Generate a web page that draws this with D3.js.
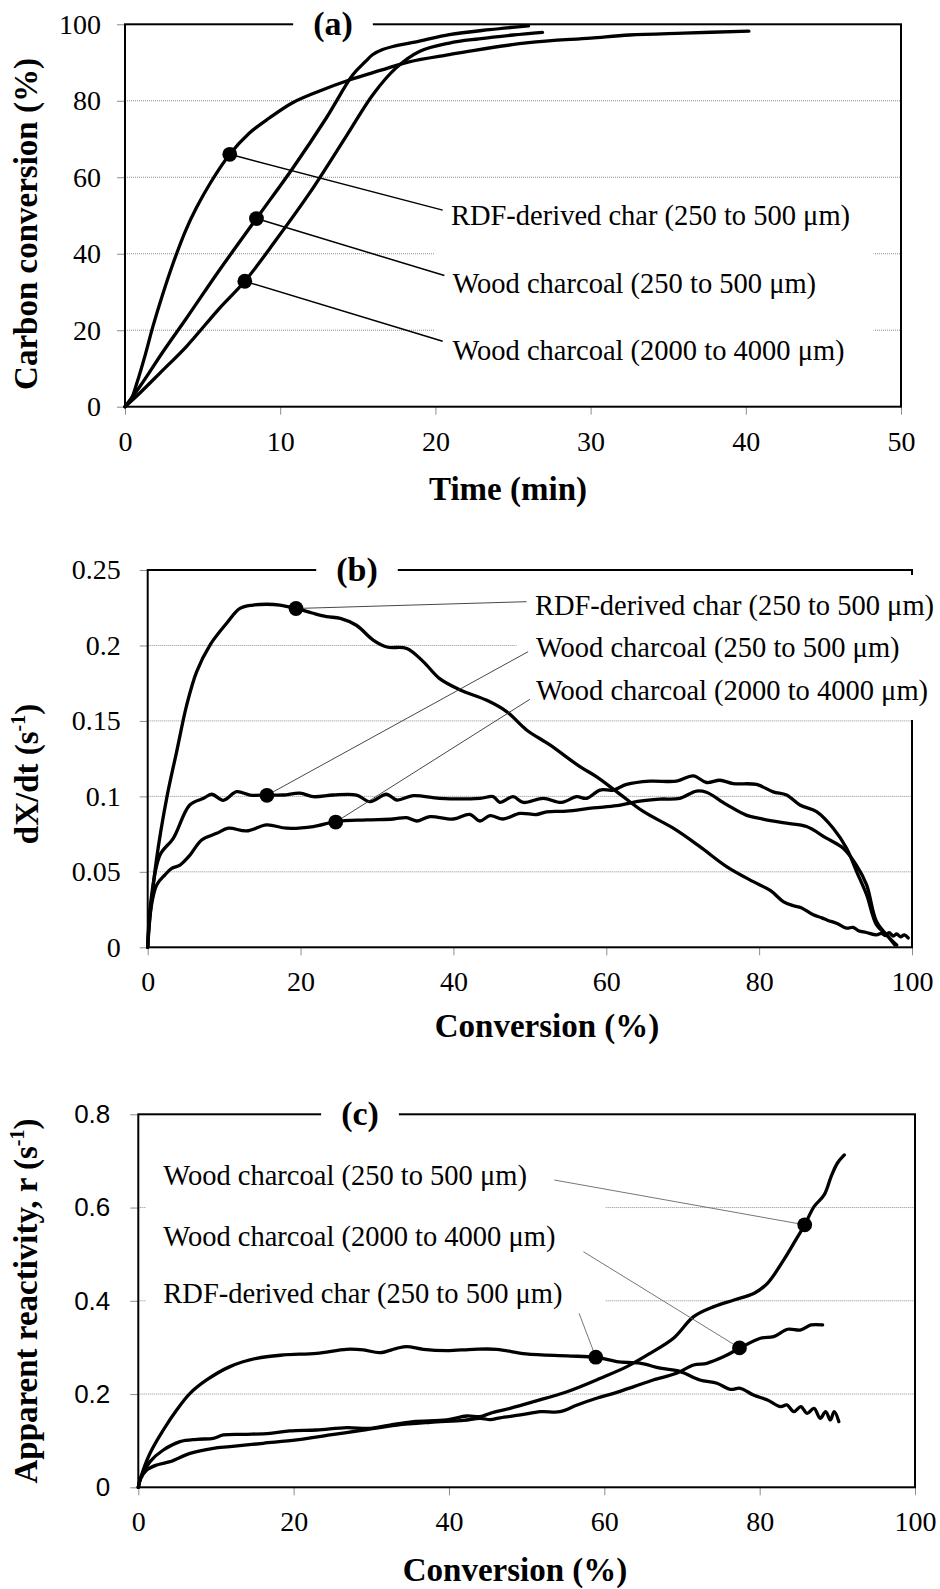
<!DOCTYPE html>
<html><head><meta charset="utf-8">
<script src="https://cdn.jsdelivr.net/npm/d3@7"></script>
<style>
body{margin:0;background:#fff;}
svg{display:block;background:#fff;}
</style></head><body>
<svg id="chart" width="940" height="1589"></svg>
<script>
// ---------- Panel (a): carbon conversion vs time ----------
const seriesNames = ["RDF-derived char (250 to 500 μm)", "Wood charcoal (250 to 500 μm)", "Wood charcoal (2000 to 4000 μm)"];

const aTimeRDF = [0,0.4,0.75,1.3,1.8,2.4,3.1,3.9,4.6,5.5,6.75,8,9.3,10.8,12.5,14.5,16.5,18.3,20.9,22.2,26,30,32.5,36,40.2];
const aConvRDF = [0,2,6,13.5,21,29,37.5,46,52,58.5,66,71.5,75.5,79.5,82.5,85.5,88,90.2,92.1,93,95.2,96.4,97.2,97.7,98.2];
const aTimeW250 = [0,0.96,2.47,3.97,6.1,8.47,10.83,12.97,14.68,15.5,15.97,16.6,17.26,18.97,20.9,23.5,26.0];
const aConvW250 = [0,5.3,14.5,23.2,35.8,49.2,62.5,75.5,86.8,90.3,92.1,93.4,94.2,95.6,97.3,98.6,99.6];
const aTimeW2000 = [0,0.96,2.25,3.97,6.1,7.72,9.75,11.9,14.25,15.97,17.47,18.97,20.9,22.8,25,26.9];
const aConvW2000 = [0,3.6,8.8,15.8,25.8,32.8,43.7,55.9,70.7,81.6,88.6,92.9,95.1,96.2,97.2,97.9];
const aXTicks = [0,10,20,30,40,50];
const aYTicks = [0,20,40,60,80,100];
const aGrid = [20,40,60,80];
// markers [x, y] and leader-line ends [x, y] (data units)
const aDots = [[6.75,66],[8.47,49.2],[7.72,32.8]];
const aLeadEnds = [[20.47,51.4],[20.58,34.3],[20.47,17.1]];
const aLabelPos = [[21.0,47.5],[21.1,29.8],[21.1,12.2]];
const aBox = [19.94,48.23,6.96,55.4];

// ---------- Panel (b): dX/dt vs conversion ----------
const bConvRDF = [0,0.3,1.17,2.48,3.79,5.1,6.41,8.15,10.33,12.07,13.8,15.56,17.3,19.35,21.5,23.4,25.2,27.3,29.5,31.3,33.9,36.05,38.2,40.9,44.3,46.96,49.57,52.62,56.55,58.7,61.35,64.84,68.76,72.25,75.74,79.23,81.5,83.15,84.5,85.5,87.08,88.2,89.0,90.2,91.44,92.3,93.0,94.0,95.35,96.0,96.5,97.0,97.54,98.0,98.5,99.0,99.5];
const bRateRDF = [0,0.02,0.059,0.0987,0.1297,0.1605,0.1827,0.2003,0.2147,0.2246,0.2268,0.2273,0.2268,0.2246,0.2215,0.2191,0.218,0.2134,0.2036,0.199,0.198,0.1893,0.178,0.1705,0.1638,0.1562,0.144,0.1341,0.1197,0.1131,0.1032,0.09,0.0789,0.0667,0.0535,0.0435,0.0375,0.0303,0.0275,0.0262,0.0215,0.0195,0.0178,0.0158,0.0127,0.0132,0.011,0.0098,0.0082,0.0092,0.0078,0.0097,0.0075,0.0088,0.007,0.0082,0.0062];
const bConvW250 = [0,0.4,1.61,3.35,5.5,7.3,8.37,9.89,11.64,13.38,15.56,17.74,19.92,21.67,24.28,27.33,29.08,31.26,32.57,34.75,38.2,43.47,45.2,46.08,47.8,49.14,51.75,54.15,56.1,57.43,59.18,60.92,62.66,65.71,69.2,71.38,73.12,74.87,76.61,79.66,81.84,83.59,85.33,87.51,89.69,91.44,92.75,94.06,95.36,96.67,97.76];
const bRateW250 = [0,0.03,0.0612,0.0722,0.0943,0.0987,0.1014,0.0974,0.1031,0.1009,0.1009,0.1009,0.1022,0.0998,0.1009,0.1009,0.0965,0.1014,0.0976,0.1005,0.0987,0.0987,0.0998,0.0961,0.0998,0.096,0.0987,0.096,0.0998,0.0987,0.1042,0.1042,0.1079,0.1101,0.1101,0.1136,0.1092,0.1107,0.1085,0.1079,0.103,0.1009,0.0943,0.0899,0.0789,0.0656,0.0502,0.0348,0.0149,0.0082,0.0015];
const bConvW2000 = [0,0.4,1.17,2.26,3.14,4.22,5.53,7.06,9.02,10.55,12.95,15.56,18.17,21.67,24.59,28.64,32.13,33.87,35.18,36.92,39.97,42.15,43.46,44.77,46.5,48.7,50.9,52.2,54.8,58.3,61.35,64.4,67.0,69.6,71.8,73.1,75.7,78.3,80.5,83.6,86.2,88.8,91.0,92.7,94.06,95.36,97.1,98.0];
const bRateW2000 = [0,0.025,0.0413,0.048,0.0523,0.0545,0.0611,0.0711,0.0755,0.0789,0.0771,0.0811,0.0789,0.08,0.0833,0.0844,0.085,0.0859,0.0837,0.0866,0.085,0.0881,0.0837,0.0872,0.085,0.0887,0.088,0.0898,0.0902,0.0924,0.0938,0.0969,0.0982,0.0987,0.1035,0.1027,0.0947,0.0876,0.085,0.0822,0.08,0.0723,0.0656,0.0546,0.0414,0.0171,0.006,0.0015];
const bXTicks = [0,20,40,60,80,100];
const bYTicks = [0,0.05,0.1,0.15,0.2,0.25];
const bGrid = [0.05,0.1,0.15,0.2];
const bDots = [[19.4,0.2245],[15.6,0.1007],[24.6,0.083]];
const bLeadEnds = [[49.57,0.229],[49.78,0.1959],[50.0,0.1643]];
const bLabelPos = [[50.66,0.2202],[50.8,0.1926],[50.8,0.1639]];
const bBox = [48.27,104,0.1506,0.2467];

// ---------- Panel (c): apparent reactivity vs conversion ----------
const cConvRDF = [0,0.3,1.51,3.22,4.94,6.66,8.8,11.8,15.24,18.7,22.97,26.83,28.98,31.13,33.27,34.56,36.7,39.7,43.15,46.15,49.9,55.2,58.9,61.6,64.6,67.2,69.8,72.3,74.5,76.2,77.5,79.2,81.0,82.7,83.5,84.4,85.3,86.1,87.0,87.8,88.5,89.1,89.6,90.2];
const cReacRDF = [0,0.02,0.0729,0.1229,0.1658,0.2015,0.2302,0.2588,0.2767,0.2838,0.2874,0.296,0.2946,0.2888,0.2981,0.3017,0.296,0.2931,0.296,0.296,0.2861,0.2818,0.279,0.2697,0.2661,0.2554,0.2482,0.2302,0.2231,0.2102,0.2123,0.198,0.1873,0.173,0.1766,0.1623,0.173,0.1587,0.1694,0.148,0.1623,0.1444,0.1623,0.1408];
const cConvW250 = [0,0.3,1.51,3.22,5.37,7.52,9.66,10.95,13.95,16.96,19.5,22.97,26.83,29.84,32.4,35.42,39.7,42.28,44.0,45.3,47.87,50.9,55.2,59.5,62.9,65.9,68.9,71.5,74.1,76.7,79.3,81.0,83.1,84.9,85.8,87.0,88.3,89.2,90.0,90.9];
const cReacW250 = [0,0.02,0.055,0.08,0.0979,0.1029,0.105,0.1122,0.1136,0.1158,0.1208,0.1229,0.1279,0.1265,0.1336,0.1408,0.1444,0.1529,0.1515,0.1587,0.1694,0.1837,0.205,0.2338,0.2588,0.2874,0.3196,0.366,0.3875,0.4018,0.4161,0.4375,0.4876,0.5377,0.5627,0.602,0.627,0.6664,0.695,0.7129];
const cConvW2000 = [0,0.3,1.08,2.37,4.08,6.66,9.66,11.8,16.1,20.4,24.7,28.98,33.3,37.6,41.9,44.0,45.3,46.6,49.2,51.8,54.3,56.5,59.0,61.2,63.8,66.3,69.3,71.5,73.2,75.4,77.4,80.1,81.8,83.6,85.3,86.6,88.1];
const cReacW2000 = [0,0.018,0.0371,0.0479,0.055,0.0729,0.0836,0.0872,0.0944,0.1015,0.1122,0.1229,0.1336,0.1395,0.1437,0.148,0.1451,0.149,0.1551,0.1622,0.1622,0.1765,0.1909,0.2016,0.2159,0.2302,0.2445,0.2624,0.266,0.2803,0.2981,0.3196,0.3232,0.339,0.3375,0.3482,0.3482];
const cXTicks = [0,20,40,60,80,100];
const cYTicks = [0,0.2,0.4,0.6,0.8];
const cGrid = [0.2,0.4,0.6];
// order in panel (c): Wood 250-500, Wood 2000-4000, RDF
const cLabelOrder = [1,2,0];
const cDots = [[85.8,0.563],[77.4,0.299],[58.9,0.279]];
const cLeadEnds = [[53.57,0.659],[57.31,0.5053],[56.75,0.3732]];
const cLabelPos = [[3.22,0.6484],[3.22,0.5175],[3.22,0.3953]];
const cBox = [0.99,60.1,0.3593,0.766];

// ---------- drawing ----------
const svg = d3.select("#chart");
const SERIF = "'Liberation Serif','Times New Roman',Times,serif";
const SANS = "'Liberation Sans',Arial,Helvetica,sans-serif";
const zip = (xs, ys) => xs.map((v,i)=>[v, ys[i]]);

const panels = [
  { tag:"(a)", left:125, right:901, top:24.3, bottom:406.7, xDomain:[0,50], yDomain:[0,100],
    xTicks:aXTicks, yTicks:aYTicks, grid:aGrid, yFont:SERIF, yFontSize:28, yPad:16,
    series:[zip(aTimeRDF,aConvRDF), zip(aTimeW250,aConvW250), zip(aTimeW2000,aConvW2000)],
    dots:aDots, leads:aLeadEnds, labels:aLabelPos, labelOrder:[0,1,2], box:aBox,
    leadColor:"#000", leadWidth:1.5,
    tagX:333, xTitle:"Time (min)", xTitleX:508, xTitleY:500,
    yTitle:[["Carbon conversion (%)",false]], yTitleX:37, yTitleY:224 },
  { tag:"(b)", left:147.7, right:912, top:570, bottom:947.3, xDomain:[0,100], yDomain:[0,0.25],
    xTicks:bXTicks, yTicks:bYTicks, grid:bGrid, yFont:SERIF, yFontSize:28, yPad:19,
    series:[zip(bConvRDF,bRateRDF), zip(bConvW250,bRateW250), zip(bConvW2000,bRateW2000)],
    dots:bDots, leads:bLeadEnds, labels:bLabelPos, labelOrder:[0,1,2], box:bBox,
    leadColor:"#333", leadWidth:0.9,
    tagX:357, xTitle:"Conversion (%)", xTitleX:547, xTitleY:1037,
    yTitle:[["dX/dt (s",false],["-1",true],[")",false]], yTitleX:38, yTitleY:774 },
  { tag:"(c)", left:138.3, right:915, top:1114.3, bottom:1487.3, xDomain:[0,100], yDomain:[0,0.8],
    xTicks:cXTicks, yTicks:cYTicks, grid:cGrid, yFont:SANS, yFontSize:26, yPad:20,
    series:[zip(cConvRDF,cReacRDF), zip(cConvW250,cReacW250), zip(cConvW2000,cReacW2000)],
    dots:cDots, leads:cLeadEnds, labels:cLabelPos, labelOrder:cLabelOrder, box:cBox,
    leadColor:"#666", leadWidth:0.9,
    tagX:360, xTitle:"Conversion (%)", xTitleX:515, xTitleY:1581,
    yTitle:[["Apparent reactivity, r (s",false],["-1",true],[")",false]], yTitleX:37, yTitleY:1301 }
];

panels.forEach(p => {
  const g = svg.append("g");
  const x = d3.scaleLinear().domain(p.xDomain).range([p.left, p.right]);
  const y = d3.scaleLinear().domain(p.yDomain).range([p.bottom, p.top]);

  // gridlines
  g.selectAll("line.grid").data(p.grid).join("line").attr("class","grid")
    .attr("x1", p.left).attr("x2", p.right)
    .attr("y1", d => y(d)).attr("y2", d => y(d))
    .attr("stroke", "#8c8c8c").attr("stroke-width", 1).attr("stroke-dasharray", "1,1");

  // axes
  const ya = g.append("g").attr("transform", `translate(${p.left},0)`)
    .call(d3.axisLeft(y).tickValues(p.yTicks).tickFormat(d => String(d)).tickSize(8).tickPadding(p.yPad));
  ya.select(".domain").remove();
  ya.selectAll(".tick line").attr("stroke", "#8c8c8c").attr("stroke-width", 1);
  ya.selectAll(".tick text").attr("font-family", p.yFont).attr("font-size", p.yFontSize).attr("fill", "#000");

  const xa = g.append("g").attr("transform", `translate(0,${p.bottom})`)
    .call(d3.axisBottom(x).tickValues(p.xTicks).tickFormat(d => String(d)).tickSize(8).tickPadding(16));
  xa.select(".domain").remove();
  xa.selectAll(".tick line").attr("stroke", "#8c8c8c").attr("stroke-width", 1);
  xa.selectAll(".tick text").attr("font-family", SERIF).attr("font-size", 28).attr("fill", "#000");

  // frame
  g.append("rect").attr("x", p.left).attr("y", p.top)
    .attr("width", p.right - p.left).attr("height", p.bottom - p.top)
    .attr("fill", "none").attr("stroke", "#000").attr("stroke-width", 2);

  // white label box (covers gridlines / frame like the original text boxes)
  const [bx0, bx1, by0, by1] = p.box;
  g.append("rect").attr("x", x(bx0)).attr("y", y(by1))
    .attr("width", x(bx1) - x(bx0)).attr("height", y(by0) - y(by1))
    .attr("fill", "#fff");

  // curves
  const line = d3.line().x(d => x(d[0])).y(d => y(d[1])).curve(d3.curveCatmullRom.alpha(0.5));
  g.selectAll("path.series").data(p.series).join("path").attr("class","series")
    .attr("d", line).attr("fill", "none").attr("stroke", "#000")
    .attr("stroke-width", 3.3).attr("stroke-linejoin", "round").attr("stroke-linecap", "round");

  // leader lines
  g.selectAll("line.lead").data(p.dots).join("line").attr("class","lead")
    .attr("x1", d => x(d[0])).attr("y1", d => y(d[1]))
    .attr("x2", (d,i) => x(p.leads[i][0])).attr("y2", (d,i) => y(p.leads[i][1]))
    .attr("stroke", p.leadColor).attr("stroke-width", p.leadWidth);

  // markers
  g.selectAll("circle.dot").data(p.dots).join("circle").attr("class","dot")
    .attr("cx", d => x(d[0])).attr("cy", d => y(d[1])).attr("r", 7.4).attr("fill", "#000");

  // series labels
  g.selectAll("text.lab").data(p.labels).join("text").attr("class","lab")
    .attr("x", d => x(d[0])).attr("y", d => y(d[1]))
    .attr("font-family", SERIF).attr("font-size", 28.5).attr("fill", "#000")
    .text((d,i) => seriesNames[p.labelOrder[i]]);

  // panel tag with white gap in the top frame
  const tag = g.append("text").attr("x", p.tagX).attr("y", p.top + 10.5)
    .attr("text-anchor", "middle").attr("font-family", SERIF).attr("font-weight", "bold")
    .attr("font-size", 34).text(p.tag);
  const bb = tag.node().getBBox();
  g.append("rect").attr("x", bb.x - 20).attr("y", p.top - 4)
    .attr("width", bb.width + 40).attr("height", 8).attr("fill", "#fff");
  tag.raise();

  // axis titles
  g.append("text").attr("x", p.xTitleX).attr("y", p.xTitleY).attr("text-anchor", "middle")
    .attr("font-family", SERIF).attr("font-weight", "bold").attr("font-size", 33).text(p.xTitle);

  const yt = g.append("text").attr("transform", `translate(${p.yTitleX},${p.yTitleY}) rotate(-90)`)
    .attr("text-anchor", "middle").attr("font-family", SERIF).attr("font-weight", "bold").attr("font-size", 33);
  p.yTitle.forEach(([s, sup], i) => {
    const t = yt.append("tspan").text(s);
    if (sup) t.attr("font-size", 20).attr("dy", -13);
    else if (i > 0 && p.yTitle[i-1][1]) t.attr("dy", 13);
  });
});
</script>
</body></html>
